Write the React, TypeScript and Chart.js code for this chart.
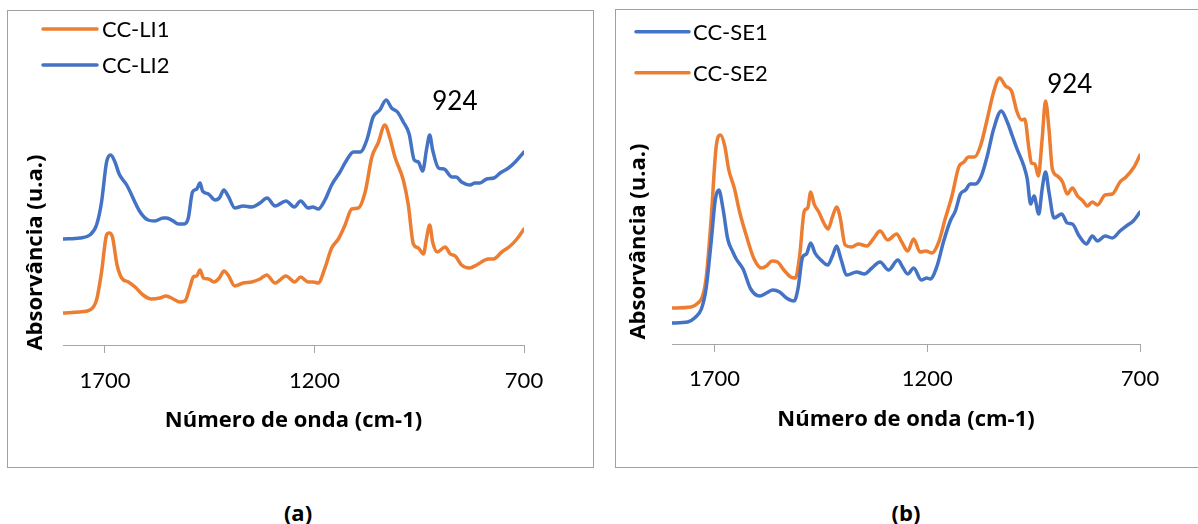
import React, { useEffect, useRef } from "react";
import { Chart, registerables } from "chart.js";

Chart.register(...registerables);

// ---------- data ----------
const xTickValues = [1700, 1200, 700];

// Panel (a)
const li1Wn = [1800,1760,1736,1720,1708,1696,1690,1682,1671,1660,1644,1628,1609,1589,1569,1554,1537,1521,1509,1497,1489,1481,1473,1465,1453,1440,1427,1416,1406,1390,1370,1350,1330,1314,1294,1268,1247,1233,1215,1203,1191,1175,1159,1143,1127,1111,1095,1079,1063,1048,1032,1020,1008,988,976,964,952,940,932,925,918,907,888,876,864,849,830,813,785,773,753,733,717,700];
const li1Abs = [0.32,0.33,0.35,0.45,0.73,1.10,1.12,1.08,0.80,0.67,0.63,0.58,0.50,0.46,0.47,0.49,0.46,0.43,0.44,0.58,0.68,0.69,0.75,0.67,0.66,0.63,0.67,0.74,0.70,0.59,0.62,0.63,0.66,0.70,0.62,0.69,0.63,0.68,0.63,0.63,0.62,0.77,0.97,1.06,1.20,1.36,1.37,1.53,1.88,2.02,2.20,2.07,1.88,1.65,1.40,1.01,0.97,0.91,1.08,1.20,1.03,0.93,0.98,0.91,0.89,0.80,0.77,0.80,0.86,0.86,0.93,0.99,1.06,1.16];

const li2Wn = [1800,1760,1736,1720,1708,1696,1686,1676,1666,1648,1616,1597,1581,1561,1553,1537,1525,1511,1501,1491,1481,1473,1467,1453,1437,1427,1416,1406,1390,1370,1350,1330,1313,1294,1268,1248,1233,1215,1204,1191,1175,1159,1139,1123,1107,1091,1075,1060,1044,1029,1016,1002,988,974,962,952,942,932,925,918,904,891,872,862,849,829,817,805,789,772,757,737,721,700];
const li2Abs = [1.06,1.07,1.10,1.20,1.43,1.83,1.90,1.83,1.71,1.60,1.33,1.25,1.24,1.27,1.27,1.24,1.21,1.21,1.27,1.53,1.56,1.62,1.54,1.51,1.45,1.47,1.55,1.49,1.37,1.39,1.38,1.42,1.47,1.39,1.44,1.38,1.44,1.37,1.38,1.36,1.45,1.60,1.73,1.85,1.93,1.93,2.05,2.28,2.35,2.45,2.37,2.33,2.23,2.11,1.85,1.83,1.74,1.97,2.10,1.95,1.77,1.76,1.68,1.68,1.63,1.60,1.62,1.62,1.66,1.67,1.72,1.77,1.83,1.93];

// Panel (b)
const se1Wn = [1800,1763,1747,1731,1720,1708,1698,1690,1680,1669,1657,1649,1633,1615,1594,1578,1563,1547,1531,1513,1504,1493,1484,1474,1464,1450,1434,1423,1413,1403,1389,1366,1348,1330,1311,1291,1269,1258,1246,1232,1214,1201,1193,1177,1162,1146,1134,1122,1110,1099,1087,1073,1059,1044,1026,1012,1000,989,973,965,957,949,938,930,922,914,902,884,871,859,843,826,812,800,782,765,747,732,716,700];
const se1Abs = [0.21,0.22,0.26,0.35,0.55,1.02,1.45,1.54,1.35,1.05,0.92,0.85,0.75,0.55,0.48,0.51,0.54,0.52,0.46,0.43,0.55,0.87,0.90,1.01,0.91,0.84,0.79,0.88,0.98,0.85,0.69,0.72,0.70,0.76,0.82,0.74,0.84,0.77,0.70,0.76,0.64,0.66,0.65,0.78,1.02,1.23,1.33,1.50,1.54,1.60,1.60,1.68,1.88,2.15,2.33,2.22,2.08,1.95,1.78,1.65,1.40,1.48,1.30,1.55,1.72,1.52,1.26,1.30,1.21,1.20,1.08,1.00,1.08,1.03,1.08,1.06,1.13,1.18,1.23,1.32];

const se2Wn = [1800,1755,1739,1728,1720,1708,1696,1686,1676,1667,1653,1641,1625,1607,1590,1578,1565,1552,1537,1521,1510,1500,1489,1481,1474,1466,1455,1442,1433,1423,1413,1405,1393,1378,1362,1342,1327,1311,1293,1272,1260,1246,1232,1217,1203,1189,1173,1158,1142,1126,1114,1103,1089,1075,1059,1044,1030,1016,1002,989,978,971,961,955,947,939,930,922,914,906,894,882,871,859,847,834,824,812,800,782,765,747,733,714,700];
const se2Abs = [0.36,0.37,0.41,0.48,0.65,1.25,1.98,2.09,1.98,1.75,1.55,1.32,1.08,0.85,0.76,0.78,0.83,0.82,0.74,0.67,0.66,0.88,1.33,1.36,1.52,1.40,1.32,1.20,1.15,1.27,1.37,1.27,0.99,0.97,1.00,0.98,1.05,1.13,1.04,1.10,1.02,0.93,1.05,0.92,0.93,0.91,1.02,1.25,1.48,1.77,1.82,1.87,1.87,1.98,2.25,2.52,2.66,2.58,2.53,2.32,2.24,2.25,1.95,1.81,1.80,1.68,2.05,2.43,2.15,1.75,1.68,1.62,1.50,1.56,1.48,1.43,1.38,1.42,1.39,1.49,1.50,1.62,1.67,1.77,1.89];

const xTitle = "Número de onda (cm-1)";
const yTitle = "Absorvância (u.a.)";
const noteText = "924";

// ---------- styles ----------
const ORANGE = "#ED7D31";
const BLUE = "#4472C4";
const AXIS = "#a6a6a6";
const BOX = "#a0a0a0";
const FONT = "Lato";
const BOLD_FONT = "'Open Sans'";

const pts = (xs: number[], ys: number[]) => xs.map((x, i) => ({ x, y: ys[i] }));

const mkDs = (label: string, color: string, xs: number[], ys: number[]) => ({
  label,
  data: pts(xs, ys),
  borderColor: color,
  backgroundColor: color,
  borderWidth: 3.5,
  pointRadius: 0,
  fill: false,
  cubicInterpolationMode: "monotone" as const,
  borderJoinStyle: "round" as const,
  borderCapStyle: "round" as const,
});

const decorPlugin = {
  id: "decor",
  afterDatasetsDraw(chart: any, _args: any, opts: any) {
    const ctx = chart.ctx;
    ctx.save();
    // legend
    const L = opts.legend;
    chart.data.datasets.forEach((ds: any, i: number) => {
      const y = L.y0 + i * L.dy;
      ctx.strokeStyle = ds.borderColor;
      ctx.lineWidth = ds.borderWidth;
      ctx.lineCap = "round";
      ctx.beginPath();
      ctx.moveTo(L.x1, y);
      ctx.lineTo(L.x2, y);
      ctx.stroke();
      ctx.fillStyle = "#000";
      ctx.font = `22px ${FONT}`;
      ctx.textAlign = "left";
      ctx.textBaseline = "middle";
      ctx.fillText(ds.label, L.textX, y + 1);
    });
    // y axis title
    const T = opts.yTitle;
    ctx.save();
    ctx.translate(T.x, T.y);
    ctx.rotate(-Math.PI / 2);
    ctx.font = `bold 22px ${BOLD_FONT}`;
    ctx.fillStyle = "#000";
    ctx.textAlign = "center";
    ctx.textBaseline = "middle";
    ctx.fillText(yTitle, 0, 0);
    ctx.restore();
    // note
    const N = opts.note;
    const px = chart.scales.x.getPixelForValue(N.x);
    const py = chart.scales.y.getPixelForValue(N.y);
    ctx.font = `26px ${FONT}`;
    ctx.fillStyle = "#000";
    ctx.textAlign = "center";
    ctx.textBaseline = "middle";
    ctx.fillText(noteText, px, py);
    ctx.restore();
  },
};

type PanelCfg = {
  canvas: { left: number; top: number; width: number; height: number };
  pad: { left: number; top: number; right: number; bottom: number };
  axisH: number;
  tickPad: number;
  titlePadBottom: number;
  legend: any;
  yTitle: any;
  note: any;
  datasets: any[];
};

function Panel({ cfg }: { cfg: PanelCfg }) {
  const ref = useRef<HTMLCanvasElement | null>(null);
  useEffect(() => {
    if (!ref.current) return;
    const chart = new Chart(ref.current, {
      type: "line",
      data: { datasets: cfg.datasets },
      plugins: [decorPlugin],
      options: {
        responsive: false,
        animation: false,
        devicePixelRatio: 1,
        layout: { padding: cfg.pad },
        scales: {
          x: {
            type: "linear",
            min: 700,
            max: 1800,
            reverse: true,
            afterBuildTicks: (s: any) => {
              s.ticks = xTickValues.map((v) => ({ value: v }));
            },
            afterFit: (s: any) => {
              s.height = cfg.axisH;
            },
            grid: {
              display: true,
              drawOnChartArea: false,
              drawTicks: true,
              tickLength: 8,
              color: AXIS,
              lineWidth: 1,
            },
            border: { display: true, color: AXIS, width: 1 },
            ticks: {
              font: { family: FONT, size: 22 },
              color: "#000",
              padding: cfg.tickPad,
              maxRotation: 0,
              autoSkip: false,
              callback: (v: any) => String(v),
            },
            title: {
              display: true,
              text: xTitle,
              font: { family: "Open Sans", size: 22, weight: "bold" },
              color: "#000",
              padding: { top: 0, bottom: cfg.titlePadBottom },
            },
          },
          y: { display: false, min: 0, max: 3.25 },
        },
        plugins: {
          legend: { display: false },
          tooltip: { enabled: false },
          decor: { legend: cfg.legend, yTitle: cfg.yTitle, note: cfg.note },
        } as any,
      } as any,
    });
    return () => chart.destroy();
  }, [cfg]);
  const c = cfg.canvas;
  return (
    <canvas
      ref={ref}
      width={c.width}
      height={c.height}
      style={{ position: "absolute", left: c.left, top: c.top, width: c.width, height: c.height, display: "block" }}
    />
  );
}

const panelA: PanelCfg = {
  canvas: { left: 8, top: 11, width: 585, height: 456 },
  pad: { left: 55, top: 9, right: 69, bottom: 0 },
  axisH: 122,
  tickPad: 15,
  titlePadBottom: 33,
  legend: { x1: 35, x2: 89, textX: 94, y0: 18, dy: 36 },
  yTitle: { x: 28, y: 241.5 },
  note: { x: 865, y: 2.43 },
  datasets: [mkDs("CC-LI1", ORANGE, li1Wn, li1Abs), mkDs("CC-LI2", BLUE, li2Wn, li2Abs)],
};

const panelB: PanelCfg = {
  canvas: { left: 616, top: 10, width: 582, height: 457 },
  pad: { left: 56, top: 9, right: 58, bottom: 0 },
  axisH: 123,
  tickPad: 14,
  titlePadBottom: 34,
  legend: { x1: 20, x2: 73, textX: 77, y0: 21.7, dy: 41 },
  yTitle: { x: 23, y: 231.5 },
  note: { x: 865, y: 2.59 },
  datasets: [mkDs("CC-SE1", BLUE, se1Wn, se1Abs), mkDs("CC-SE2", ORANGE, se2Wn, se2Abs)],
};

const capStyle: React.CSSProperties = {
  position: "absolute",
  transform: "translate(-50%, -50%)",
  fontFamily: "'Open Sans'",
  fontWeight: "bold",
  fontSize: 22,
  color: "#000",
  whiteSpace: "nowrap",
  lineHeight: 1.2,
};

export default function App() {
  return (
    <div
      style={{
        position: "absolute",
        left: 0,
        top: 0,
        width: 1198,
        height: 524,
        overflow: "hidden",
        background: "#fff",
      }}
    >
      <div
        style={{
          position: "absolute",
          left: 7,
          top: 10,
          width: 587,
          height: 458,
          border: `1px solid ${BOX}`,
          boxSizing: "border-box",
        }}
      />
      <div
        style={{
          position: "absolute",
          left: 615,
          top: 9,
          width: 600,
          height: 459,
          border: `1px solid ${BOX}`,
          boxSizing: "border-box",
        }}
      />
      <Panel cfg={panelA} />
      <Panel cfg={panelB} />
      <div style={{ ...capStyle, left: 298, top: 512 }}>(a)</div>
      <div style={{ ...capStyle, left: 906, top: 512 }}>(b)</div>
    </div>
  );
}
